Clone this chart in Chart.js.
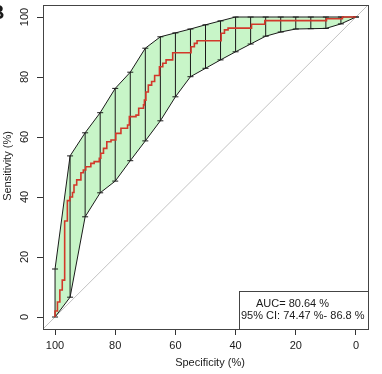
<!DOCTYPE html>
<html>
<head>
<meta charset="utf-8">
<script src="https://cdn.jsdelivr.net/npm/chart.js@4.4.1/dist/chart.umd.min.js"></script>
<style>
  html, body { margin: 0; padding: 0; background: #fff; }
  canvas { display: block; }
</style>
</head>
<body>
<canvas id="roc" width="382" height="374"></canvas>
<script>
// tick labels (specificity reversed on x)
const xTicks = [100, 80, 60, 40, 20, 0];
const yTicks = [0, 20, 40, 60, 80, 100];

// ROC curve corners (specificity %, sensitivity %)
const rocSpec = [100, 100, 99.2, 98.4, 97.6, 96.8, 95.9, 95.1, 94.2, 93.7, 92.8, 91.4, 90.6, 89.8, 88.1, 87, 85.3, 84.8, 83.9, 82.8, 81.4, 79.8, 78.1, 75.9, 75.3, 73.1, 72.2, 70.6, 70.3, 69.8, 69.0, 67.9, 66.9, 65.3, 64.2, 63.1, 60.9, 54.8, 53.7, 52.8, 44.8, 43.7, 42.5, 34.7, 30.3, 9.8, 4.5, 0];
const rocSens = [0, 2, 5, 9, 12.3, 32, 38.8, 40, 41.5, 44, 45.7, 48.1, 49, 50.1, 51.2, 51.8, 52.9, 54.6, 56.2, 58.4, 59, 61.2, 62.9, 64, 66.8, 67.3, 69.6, 70.7, 72.3, 75, 77.3, 78.5, 80.5, 83.4, 84.6, 85.7, 88.1, 90.1, 91.2, 92.1, 94.6, 95.7, 96.3, 97.6, 98.8, 99.4, 100, 100];

// 95% CI of sensitivity at fixed specificities
const ciSpec  = [100, 95, 90, 85, 80, 75, 70, 65, 60, 55, 50, 45, 40, 35, 30, 25, 20, 15, 10, 5, 0];
const ciUpper = [16, 53.7, 61.4, 68.1, 76.2, 81.6, 89.6, 93.4, 94.7, 96.0, 97.4, 98.7, 100, 100, 100, 100, 100, 100, 100, 100, 100];
const ciLower = [0, 6.6, 33.4, 41.4, 45.3, 52.1, 58.7, 65.4, 73.4, 80.1, 82.9, 85.7, 88.4, 91, 93.6, 95, 96, 96.1, 96.2, 97.7, 100];

const aucText = 'AUC= 80.64 %';
const ciText = '95% CI: 74.47 %- 86.8 %';

const FONT = '"Liberation Sans", Arial, Helvetica, sans-serif';
const INK = '#1a1a1a';

const rocPts = rocSpec.map((s, i) => ({x: s, y: rocSens[i]}));
const upPts = ciSpec.map((s, i) => ({x: s, y: ciUpper[i]}));
const loPts = ciSpec.map((s, i) => ({x: s, y: ciLower[i]}));
const barPts = [];
ciSpec.forEach((s, i) => {
  barPts.push({x: s, y: ciLower[i]}, {x: s, y: ciUpper[i]}, {x: s, y: null});
});

// box, y labels, titles, legend, panel letter
const decor = {
  id: 'decor',
  afterDatasetsDraw(chart) {
    const {ctx, chartArea: a} = chart;
    ctx.save();
    ctx.strokeStyle = '#444';
    ctx.lineWidth = 1;
    ctx.strokeRect(Math.round(a.left) + 0.5, Math.round(a.top) + 0.5,
      Math.round(a.right - a.left), Math.round(a.bottom - a.top));
    ctx.restore();
  },
  afterDraw(chart) {
    const {ctx, chartArea: a, scales} = chart;
    ctx.save();
    ctx.fillStyle = INK;
    ctx.font = '11px ' + FONT;
    ctx.textAlign = 'center';
    ctx.textBaseline = 'middle';
    yTicks.forEach(v => {
      ctx.save();
      ctx.translate(24.5, scales.y.getPixelForValue(v));
      ctx.rotate(-Math.PI / 2);
      ctx.fillText(String(v), 0, 0);
      ctx.restore();
    });
    ctx.fillText('Specificity (%)', 210, 363);
    ctx.save();
    ctx.translate(7.5, 166);
    ctx.rotate(-Math.PI / 2);
    ctx.fillText('Sensitivity (%)', 0, 0);
    ctx.restore();

    // legend box
    const bw = 129, bh = 38;
    const bx = Math.round(a.right) - bw, by = Math.round(a.bottom) - bh;
    ctx.fillStyle = '#fff';
    ctx.fillRect(bx, by, bw, bh);
    ctx.strokeStyle = '#444';
    ctx.strokeRect(bx + 0.5, by + 0.5, bw, bh);
    ctx.fillStyle = INK;
    ctx.textAlign = 'left';
    ctx.fillText(aucText, bx + 17, by + 13);
    ctx.fillText(ciText, bx + 2, by + 25);

    ctx.font = 'bold 20px ' + FONT;
    ctx.textAlign = 'right';
    ctx.textBaseline = 'alphabetic';
    ctx.fillText('B', 4.5, 19);
    ctx.restore();
  }
};

new Chart('roc', {
  type: 'line',
  data: {
    datasets: [
      {label: 'ROC', data: rocPts, borderColor: '#d2382a', borderWidth: 1.6,
        stepped: 'before', pointRadius: 0, fill: false},
      {label: 'upper ends', data: upPts, showLine: false, pointStyle: 'line',
        pointRadius: 3, borderColor: INK, borderWidth: 1},
      {label: 'lower ends', data: loPts, showLine: false, pointStyle: 'line',
        pointRadius: 3, borderColor: INK, borderWidth: 1},
      {label: 'bars', data: barPts, borderColor: INK, borderWidth: 1,
        pointRadius: 0, spanGaps: false, fill: false},
      {label: 'CI upper', data: upPts, borderColor: INK, borderWidth: 1,
        pointRadius: 0, fill: '+1', backgroundColor: '#c8f5c8'},
      {label: 'CI lower', data: loPts, borderColor: INK, borderWidth: 1,
        pointRadius: 0, fill: false},
      {label: 'chance', data: [{x: 104, y: -4}, {x: -4, y: 104}],
        borderColor: '#c2c2c2', borderWidth: 1, pointRadius: 0, fill: false}
    ]
  },
  options: {
    responsive: false,
    animation: false,
    devicePixelRatio: 1,
    events: [],
    layout: {padding: {left: 0, right: 14, top: 4, bottom: 0}},
    plugins: {
      legend: {display: false},
      tooltip: {enabled: false},
      filler: {drawTime: 'beforeDatasetsDraw'}
    },
    scales: {
      x: {
        type: 'linear', reverse: true, min: -4, max: 104,
        afterBuildTicks: s => { s.ticks = xTicks.map(v => ({value: v})); },
        afterFit: s => { s.height = 45; },
        border: {display: false},
        grid: {drawOnChartArea: false, drawTicks: true, tickLength: 6, color: '#333'},
        ticks: {color: INK, font: {family: FONT, size: 11}, padding: 4, maxRotation: 0}
      },
      y: {
        type: 'linear', min: -4, max: 104,
        afterBuildTicks: s => { s.ticks = yTicks.map(v => ({value: v})); },
        afterFit: s => { s.width = 43; },
        border: {display: false},
        grid: {drawOnChartArea: false, drawTicks: true, tickLength: 6, color: '#333'},
        ticks: {display: false}
      }
    }
  },
  plugins: [decor]
});
</script>
</body>
</html>
